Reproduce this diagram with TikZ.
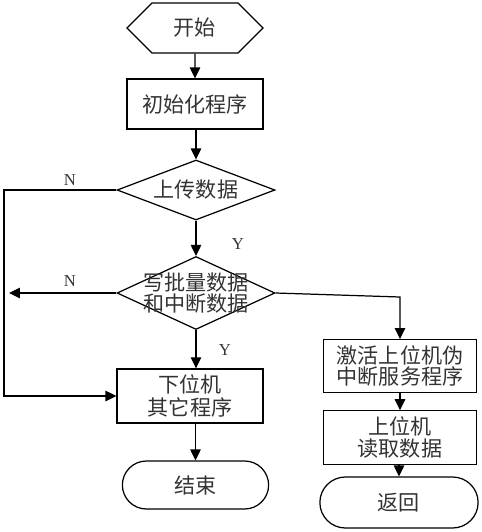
\documentclass[tikz,border=0pt]{standalone}
\usepackage{fontspec}
\setmainfont{Liberation Serif}
\newfontfamily\cjk{Noto Sans CJK SC}
\usetikzlibrary{shapes.geometric,shapes.symbols,shapes.misc,arrows.meta}

\begin{document}
\begin{tikzpicture}
        [
        x = 0.02cm, y = -0.02cm,
        line width = 0.7pt,
        every node/.style = {font=\cjk\fontsize{12}{13}\selectfont, text=black!80},
        ]
        \tikzstyle{start node}=[signal,signal to=west and east,draw,minimum width=2.72cm,minimum height=1cm,inner sep=0]
        \tikzstyle{box node}=[rectangle,draw,minimum width=2.72cm,minimum height=1cm,align=center]
        \tikzstyle{ask node}=[diamond,draw,aspect=2.6,minimum width=3.16cm,minimum height=1.2cm,inner sep=0]
        \tikzstyle{stop node}=[rounded rectangle,draw,minimum width=3.16cm,minimum height=0.96cm]
        \tikzstyle{yn node}=[font=\fontsize{9.5}{11}\selectfont]
        \tikzstyle{flow}=[-{Triangle[width=0.21cm,length=0.22cm]}]

        \useasboundingbox (0,0) rectangle (482,532);

        \node[start node] (begin) at (195,28) {开始};
        \node[box node] (init) at (195,104) {初始化程序};
        \node[ask node] (ask1) at (196,190) {上传数据};
        \node[ask node,minimum height=1.46cm] (ask2) at (196,293) {};
        \node[align=center,font=\cjk\fontsize{12}{10.8}\selectfont] (ask2text) at (ask2) {写批量数据\\和中断数据};
        \node[box node,minimum width=2.92cm,minimum height=1.02cm] (lower) at (190,396) {下位机\\其它程序};
        \node[stop node] (fin) at (195.5,485) {结束};
        \node[box node,minimum width=3.06cm,font=\cjk\fontsize{12}{10.8}\selectfont] (act) at (400,366) {激活上位机伪\\中断服务程序};
        \node[box node,minimum width=3.06cm,minimum height=1.02cm,font=\cjk\fontsize{12}{12.5}\selectfont] (read) at (400,437.5) {上位机\\读取数据};
        \node[stop node,minimum width=3.4cm,minimum height=1.02cm] (ret) at (399,502.5) {返回};

        \coordinate (loop) at (4,190);
        \coordinate (nend) at (9,293);
        \coordinate (bend) at (400,297);

        \node[yn node] (n1) at (70,180) {N};
        \node[yn node] (y1) at (238,244) {Y};
        \node[yn node] (n2) at (70,281) {N};
        \node[yn node] (y2) at (225,350) {Y};

        \draw[flow] (begin) -- (init);
        \draw[flow] (init.south -| ask1.north) -- (ask1.north);
        \draw[flow] (ask1) -- (ask2);
        \draw[flow] (ask1.west) -- (loop) |- (lower.west);
        \draw[flow] (ask2.west) -- (nend);
        \draw[flow] (ask2.south) -- (ask2.south |- lower.north);
        \draw[flow] (ask2.east) -- (bend) -- (act.north);
        \draw[flow] (fin.north |- lower.south) -- (fin.north);
        \draw[flow] (act) -- (read);
        \draw[flow] (read.south -| ret.north) -- (ret.north);
\end{tikzpicture}
\end{document}
